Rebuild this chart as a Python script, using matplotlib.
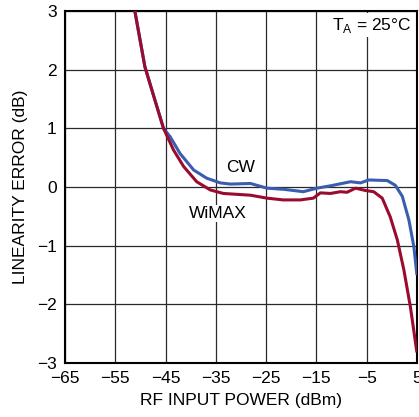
import matplotlib
matplotlib.use("Agg")
import matplotlib.pyplot as plt

plt.rcParams['font.family'] = ['Liberation Sans', 'DejaVu Sans']

# CW curve
cw_x = [-51.1, -49.1, -47.1, -45.4, -44.1, -42.1, -39.4, -36.8, -34.1, -32.1, -28.1,
        -24.8, -21.4, -17.6, -14.9, -12.2, -8.2, -6.2, -4.6, -0.9, 0.7, 2.1, 3.4, 4.4, 5.0]
cw_y = [3.0, 2.05, 1.48, 1.0, 0.86, 0.57, 0.29, 0.15, 0.07, 0.05, 0.06,
        -0.02, -0.04, -0.08, -0.02, 0.02, 0.09, 0.07, 0.12, 0.11, 0.03, -0.16, -0.56, -1.02, -1.5]

# WiMAX curve
wm_x = [-51.1, -49.1, -47.1, -45.4, -43.4, -41.4, -38.8, -36.1, -33.5, -28.1,
        -24.8, -21.6, -18.2, -15.6, -14.2, -12.2, -10.2, -8.9, -7.2, -5.2, -3.6, -1.9,
        -0.3, 1.1, 2.4, 3.7, 5.0]
wm_y = [3.0, 2.05, 1.48, 1.0, 0.63, 0.35, 0.09, -0.05, -0.11, -0.14,
        -0.19, -0.22, -0.22, -0.19, -0.10, -0.11, -0.08, -0.09, -0.02, -0.06, -0.08, -0.19,
        -0.51, -0.90, -1.41, -2.04, -2.82]

x_ticks = [-65, -55, -45, -35, -25, -15, -5, 5]
y_ticks = [-3, -2, -1, 0, 1, 2, 3]

fig = plt.figure(figsize=(4.19, 4.17), dpi=100)
ax = fig.add_axes([0.155, 0.1295, 0.840, 0.8441])

ax.plot(cw_x, cw_y, color='#3a5daf', lw=2.2, solid_capstyle='butt', zorder=3)
ax.plot(wm_x, wm_y, color='#9a0b30', lw=2.2, solid_capstyle='butt', zorder=3)

ax.set_xlim(-65, 5)
ax.set_ylim(-3, 3)
ax.set_xticks(x_ticks)
ax.set_yticks(y_ticks)
ax.set_xticklabels([str(t).replace('-', '\u2212') for t in x_ticks])
ax.set_yticklabels([str(t).replace('-', '\u2212') for t in y_ticks])
ax.tick_params(length=0, labelsize=12.5, pad=6)
ax.grid(True, color='#2a2a2a', lw=0.9)
ax.set_axisbelow(True)
for s in ax.spines.values():
    s.set_linewidth(1.5)
    s.set_color('black')

ax.set_xlabel('RF INPUT POWER (dBm)', fontsize=12.5, labelpad=5)
ax.set_ylabel('LINEARITY ERROR (dB)', fontsize=12.5, labelpad=6)

ax.text(-30.1, 0.34, 'CW', fontsize=12.5, ha='center', va='center', zorder=4)
ax.text(-34.5, -0.45, 'WiMAX', fontsize=12.5, ha='center', va='center', zorder=4,
        bbox=dict(facecolor='white', edgecolor='none', pad=1))
ax.text(3.8, 2.76, r'T$_\mathregular{A}$ = 25°C', fontsize=12.5, ha='right', va='center', zorder=4,
        bbox=dict(facecolor='white', edgecolor='none', pad=2))

fig.savefig('out.png', dpi=100)
